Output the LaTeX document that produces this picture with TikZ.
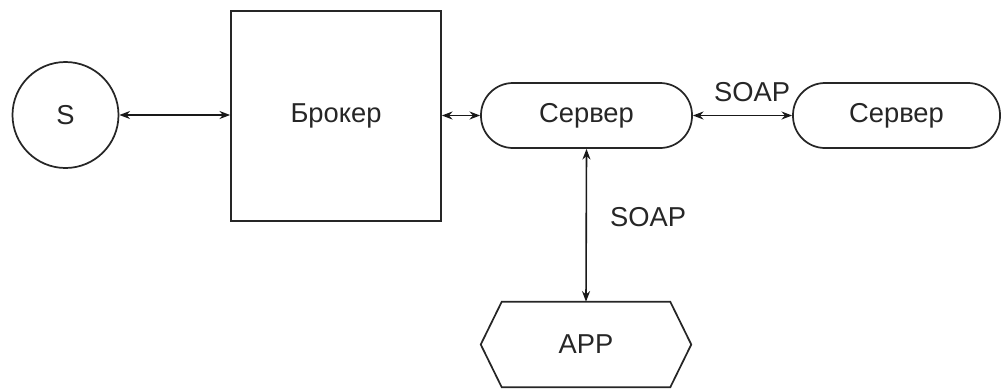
\documentclass[tikz,border=0pt]{standalone}
\usepackage{fontspec}
\setmainfont{Liberation Sans}
\usetikzlibrary{arrows.meta,calc}
\begin{document}
\begin{tikzpicture}[x=0.75pt,y=-0.75pt,
  every node/.style={font=\fontsize{20.5}{24}\selectfont, text=black!85},
  shp/.style={draw=black!85, line width=1.3pt, inner sep=0pt},
  conn/.style={line width=1.2pt, draw=black!90, {Stealth[length=8pt,width=6pt]}-{Stealth[length=8pt,width=6pt]}}
]
\useasboundingbox (0,0) rectangle (1002,390);
\node[shp, circle, minimum size=79.5pt] (s) at (65.5,115) {S};
\node[shp, rectangle, minimum width=157.5pt, minimum height=157.5pt] (broker) at (336,116) {Брокер};
\node[shp, rectangle, rounded corners=24pt, minimum width=158.25pt, minimum height=48.75pt] (srv1) at (586.5,115.5) {Сервер};
\node[shp, rectangle, rounded corners=24pt, minimum width=155.25pt, minimum height=48.75pt] (srv2) at (896.5,115.5) {Сервер};
\node[inner sep=0pt, minimum width=157.5pt, minimum height=63.75pt] (app) at (586,344.5) {APP};
\draw[line width=1.3pt, draw=black!85] (app.west) -- ([xshift=15.75pt]app.north west) -- ([xshift=-15.75pt]app.north east) -- (app.east) -- ([xshift=-15.75pt]app.south east) -- ([xshift=15.75pt]app.south west) -- cycle;
\draw[conn] (s.east) -- (s.east -| broker.west);
\draw[conn] (broker.east |- srv1.west) -- (srv1.west);
\draw[conn] (srv1.east) -- (srv2.west);
\draw[conn] (srv1.south) -- (app.north);
\node (soap1) at (752,92) {SOAP};
\node (soap2) at (648,217) {SOAP};
\end{tikzpicture}
\end{document}
